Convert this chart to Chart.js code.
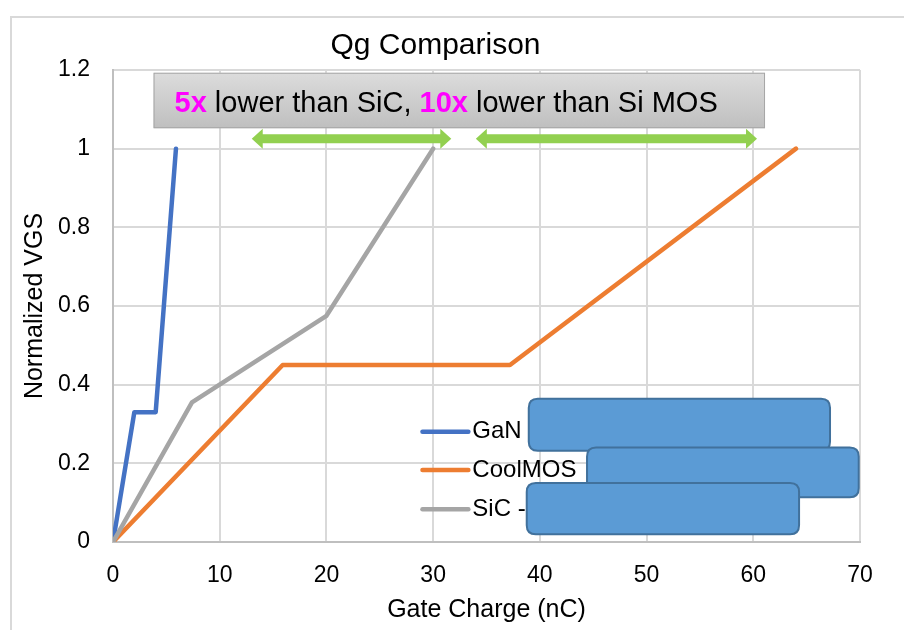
<!DOCTYPE html>
<html>
<head>
<meta charset="utf-8">
<script src="https://cdn.jsdelivr.net/npm/chart.js@4.4.1/dist/chart.umd.min.js"></script>
<style>
  html, body { margin: 0; padding: 0; background: #fff; }
  #wrap { position: relative; width: 904px; height: 630px; overflow: hidden; }
  #frame { position: absolute; left: 10px; top: 16px; width: 900px; height: 620px;
           border-left: 2px solid #d9d9d9; border-top: 2px solid #d9d9d9; }
  canvas { position: absolute; left: 0; top: 0; }
</style>
</head>
<body>
<div id="wrap">
  <div id="frame"></div>
  <canvas id="chart" width="904" height="630"></canvas>
</div>
<script>
// ---- data ----
const seriesNames = ["GaN", "CoolMOS", "SiC -"];
const ganCharge = [0, 2, 4, 5.9];
const ganVgs = [0, 0.33, 0.33, 1];
const coolCharge = [0, 15.9, 37.2, 64];
const coolVgs = [0, 0.45, 0.45, 1];
const sicCharge = [0, 7.4, 20, 30];
const sicVgs = [0, 0.355, 0.575, 1];
const xTickLabels = ["0", "10", "20", "30", "40", "50", "60", "70"];
const yTickLabels = ["0", "0.2", "0.4", "0.6", "0.8", "1", "1.2"];

const FONT = "'Liberation Sans', Arial, sans-serif";
const toPoints = (xs, ys) => xs.map((x, i) => ({ x, y: ys[i] }));

// callout box, arrows and redaction boxes, placed in data units
const callout = { x0: 3.8, x1: 61.1, y0: 1.193, y1: 1.052 };
const arrows = [
	{ x0: 13.0, x1: 31.7, y: 1.025 },
	{ x0: 34.0, x1: 60.35, y: 1.025 },
];
const legendPos = { x: 29.0, lineEnd: 33.3, ys: [0.28, 0.183, 0.083] };
const redactions = [
	{ x0: 38.96, x1: 67.19, y0: 0.364, y1: 0.232 },
	{ x0: 44.42, x1: 69.88, y0: 0.24, y1: 0.114 },
	{ x0: 38.77, x1: 64.29, y0: 0.15, y1: 0.02 },
];

function roundRectPath(ctx, x, y, w, h, r) {
	ctx.beginPath();
	ctx.moveTo(x + r, y);
	ctx.lineTo(x + w - r, y);
	ctx.quadraticCurveTo(x + w, y, x + w, y + r);
	ctx.lineTo(x + w, y + h - r);
	ctx.quadraticCurveTo(x + w, y + h, x + w - r, y + h);
	ctx.lineTo(x + r, y + h);
	ctx.quadraticCurveTo(x, y + h, x, y + h - r);
	ctx.lineTo(x, y + r);
	ctx.quadraticCurveTo(x, y, x + r, y);
	ctx.closePath();
}

const overlayPlugin = {
	id: "overlay",
	afterDraw(chart) {
		const { ctx, scales: { x, y } } = chart;
		ctx.save();

		// grey callout
		const bx = x.getPixelForValue(callout.x0);
		const bw = x.getPixelForValue(callout.x1) - bx;
		const by = y.getPixelForValue(callout.y0);
		const bh = y.getPixelForValue(callout.y1) - by;
		const grad = ctx.createLinearGradient(0, by, 0, by + bh);
		grad.addColorStop(0, "#dcdcdc");
		grad.addColorStop(1, "#bfbfbf");
		ctx.fillStyle = grad;
		ctx.fillRect(bx, by, bw, bh);
		ctx.strokeStyle = "#a6a6a6";
		ctx.lineWidth = 1;
		ctx.strokeRect(bx + 0.5, by + 0.5, bw - 1, bh - 1);

		const parts = [
			{ t: "5x", c: "#ff00ff", w: "bold" },
			{ t: " lower than SiC, ", c: "#000", w: "normal" },
			{ t: "10x", c: "#ff00ff", w: "bold" },
			{ t: " lower than Si MOS", c: "#000", w: "normal" },
		];
		let tx = bx + 21;
		const ty = by + bh * 0.7;
		ctx.textBaseline = "alphabetic";
		ctx.textAlign = "left";
		parts.forEach((p) => {
			ctx.font = `${p.w} 29px ${FONT}`;
			ctx.fillStyle = p.c;
			ctx.fillText(p.t, tx, ty);
			tx += ctx.measureText(p.t).width;
		});

		// green double arrows
		ctx.fillStyle = "#92d050";
		arrows.forEach((a) => {
			const x0 = x.getPixelForValue(a.x0);
			const x1 = x.getPixelForValue(a.x1);
			const yc = y.getPixelForValue(a.y);
			const sh = 4.5, hh = 10, hl = 11;
			ctx.beginPath();
			ctx.moveTo(x0, yc);
			ctx.lineTo(x0 + hl, yc - hh);
			ctx.lineTo(x0 + hl, yc - sh);
			ctx.lineTo(x1 - hl, yc - sh);
			ctx.lineTo(x1 - hl, yc - hh);
			ctx.lineTo(x1, yc);
			ctx.lineTo(x1 - hl, yc + hh);
			ctx.lineTo(x1 - hl, yc + sh);
			ctx.lineTo(x0 + hl, yc + sh);
			ctx.lineTo(x0 + hl, yc + hh);
			ctx.closePath();
			ctx.fill();
		});

		// legend inside the plot
		ctx.font = `24px ${FONT}`;
		ctx.textBaseline = "middle";
		chart.data.datasets.forEach((ds, i) => {
			const ly = y.getPixelForValue(legendPos.ys[i]);
			const lx0 = x.getPixelForValue(legendPos.x);
			const lx1 = x.getPixelForValue(legendPos.lineEnd);
			ctx.strokeStyle = ds.borderColor;
			ctx.lineWidth = 4.5;
			ctx.lineCap = "round";
			ctx.beginPath();
			ctx.moveTo(lx0, ly);
			ctx.lineTo(lx1, ly);
			ctx.stroke();
			ctx.fillStyle = "#000";
			ctx.fillText(ds.label, lx1 + 4, ly);
		});

		// blue redaction boxes
		redactions.forEach((r) => {
			const rx = x.getPixelForValue(r.x0);
			const rw = x.getPixelForValue(r.x1) - rx;
			const ry = y.getPixelForValue(r.y0);
			const rh = y.getPixelForValue(r.y1) - ry;
			roundRectPath(ctx, rx, ry, rw, rh, 9);
			ctx.fillStyle = "#5b9bd5";
			ctx.fill();
			ctx.strokeStyle = "#41719c";
			ctx.lineWidth = 2;
			ctx.stroke();
		});

		ctx.restore();
	},
};

const lineStyle = {
	borderWidth: 4.5,
	pointRadius: 0,
	fill: false,
	tension: 0,
	borderCapStyle: "round",
	borderJoinStyle: "round",
};

new Chart(document.getElementById("chart").getContext("2d"), {
	type: "line",
	data: {
		datasets: [
			{ label: seriesNames[0], data: toPoints(ganCharge, ganVgs), borderColor: "#4472c4", order: 3, ...lineStyle },
			{ label: seriesNames[1], data: toPoints(coolCharge, coolVgs), borderColor: "#ed7d31", order: 2, ...lineStyle },
			{ label: seriesNames[2], data: toPoints(sicCharge, sicVgs), borderColor: "#a5a5a5", order: 1, ...lineStyle },
		],
	},
	options: {
		responsive: false,
		animation: false,
		devicePixelRatio: 1,
		layout: { padding: { left: 11, right: 44, top: 16, bottom: 0 } },
		plugins: {
			legend: { display: false },
			tooltip: { enabled: false },
			title: {
				display: true,
				text: "Qg Comparison",
				color: "#000",
				font: { family: FONT, size: 30, weight: "normal" },
				padding: { top: 12, bottom: 6 },
			},
		},
		scales: {
			x: {
				type: "linear",
				min: 0,
				max: 70,
				afterFit: (s) => { s.height = 88; },
				ticks: {
					stepSize: 10,
					color: "#000",
					padding: 20,
					font: { family: FONT, size: 23 },
					callback: (v, i) => xTickLabels[i],
				},
				grid: { color: "#d9d9d9", lineWidth: 2, drawTicks: false },
				border: { color: "#bfbfbf", width: 2 },
				title: {
					display: true,
					text: "Gate Charge (nC)",
					color: "#000",
					font: { family: FONT, size: 25 },
					padding: { top: 0, bottom: 5 },
				},
			},
			y: {
				min: 0,
				max: 1.2,
				afterFit: (s) => { s.width = 102; },
				ticks: {
					stepSize: 0.2,
					color: "#000",
					padding: 23,
					font: { family: FONT, size: 23 },
					callback: (v, i) => yTickLabels[i],
				},
				grid: { color: "#d9d9d9", lineWidth: 2, drawTicks: false },
				border: { color: "#bfbfbf", width: 2 },
				title: {
					display: true,
					text: "Normalized VGS",
					color: "#000",
					font: { family: FONT, size: 25 },
					padding: { top: 9, bottom: 0 },
				},
			},
		},
	},
	plugins: [overlayPlugin],
});
</script>
</body>
</html>
